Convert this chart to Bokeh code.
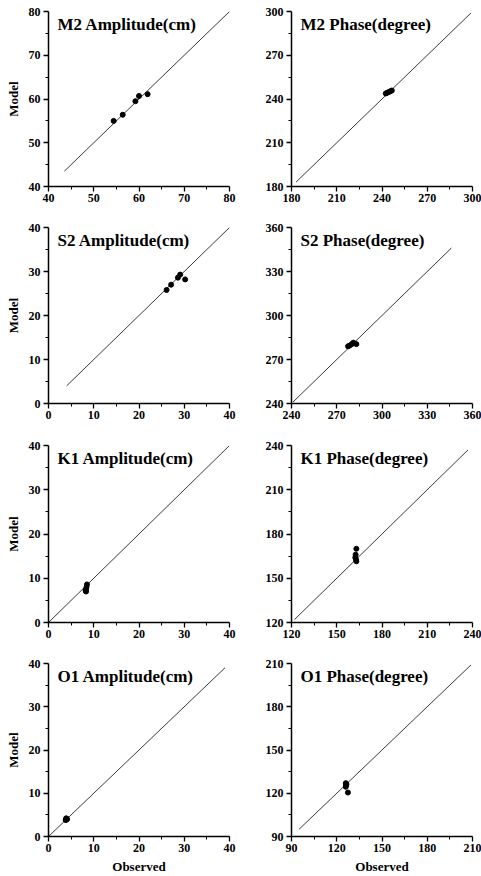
from bokeh.plotting import figure
from bokeh.layouts import gridplot
from bokeh.models import Range1d, FixedTicker, Label
from bokeh.embed import file_html
from bokeh.resources import INLINE

# ---------------- data ----------------
titles = ["M2 Amplitude(cm)", "M2 Phase(degree)",
          "S2 Amplitude(cm)", "S2 Phase(degree)",
          "K1 Amplitude(cm)", "K1 Phase(degree)",
          "O1 Amplitude(cm)", "O1 Phase(degree)"]

m2_amp_obs = [54.4, 56.4, 59.2, 60.0, 61.9]
m2_amp_mod = [55.0, 56.4, 59.5, 60.7, 61.1]
m2_pha_obs = [242.5, 243.5, 244.5, 245.5, 246.5]
m2_pha_mod = [243.8, 244.3, 244.8, 245.3, 245.8]
s2_amp_obs = [26.1, 27.1, 28.6, 29.1, 30.2]
s2_amp_mod = [25.8, 27.0, 28.6, 29.3, 28.2]
s2_pha_obs = [277.5, 278.5, 280.0, 281.0, 283.0]
s2_pha_mod = [279.0, 279.5, 280.5, 281.5, 280.5]
k1_amp_obs = [8.3, 8.3, 8.4, 8.5, 8.2]
k1_amp_mod = [7.0, 7.5, 8.0, 8.6, 7.2]
k1_pha_obs = [163.0, 162.5, 162.3, 162.8, 163.0]
k1_pha_mod = [170.0, 166.0, 164.0, 162.5, 161.5]
o1_amp_obs = [3.9, 4.0, 3.8, 4.1, 3.9]
o1_amp_mod = [3.9, 4.1, 3.8, 4.0, 4.2]
o1_pha_obs = [126.0, 126.2, 126.0, 126.4, 127.4]
o1_pha_mod = [127.0, 125.5, 124.5, 126.3, 120.5]

# axis ticks (first and last = axis range)
m2_amp_ticks = [40, 50, 60, 70, 80]
m2_pha_ticks = [180, 210, 240, 270, 300]
s2_amp_ticks = [0, 10, 20, 30, 40]
s2_pha_ticks = [240, 270, 300, 330, 360]
k1_amp_ticks = [0, 10, 20, 30, 40]
k1_pha_ticks = [120, 150, 180, 210, 240]
o1_amp_ticks = [0, 10, 20, 30, 40]
o1_pha_ticks = [90, 120, 150, 180, 210]

# extent of the 1:1 reference line in each panel
m2_amp_line = [43.5, 80]
m2_pha_line = [183, 299]
s2_amp_line = [4, 40]
s2_pha_line = [241, 346]
k1_amp_line = [0, 40]
k1_pha_line = [122, 237]
o1_amp_line = [0, 39]
o1_pha_line = [95, 209]

panels = [
    (m2_amp_obs, m2_amp_mod, m2_amp_ticks, m2_amp_line),
    (m2_pha_obs, m2_pha_mod, m2_pha_ticks, m2_pha_line),
    (s2_amp_obs, s2_amp_mod, s2_amp_ticks, s2_amp_line),
    (s2_pha_obs, s2_pha_mod, s2_pha_ticks, s2_pha_line),
    (k1_amp_obs, k1_amp_mod, k1_amp_ticks, k1_amp_line),
    (k1_pha_obs, k1_pha_mod, k1_pha_ticks, k1_pha_line),
    (o1_amp_obs, o1_amp_mod, o1_amp_ticks, o1_amp_line),
    (o1_pha_obs, o1_pha_mod, o1_pha_ticks, o1_pha_line),
]

# ---------------- layout ----------------
FONT = "Liberation Serif"
FRAME_W = 181
col_w = [241, 240]
col_left = [48, 50]
row_h = [219, 218, 218, 221]
row_top = [11, 8, 8, 8]
frame_h = [175, 176, 177, 174]

figs = []
for i, (obs, mod, ticks, line) in enumerate(panels):
    r, c = divmod(i, 2)
    lo, hi = ticks[0], ticks[-1]
    p = figure(width=col_w[c], height=row_h[r],
               x_range=Range1d(lo, hi), y_range=Range1d(lo, hi),
               output_backend="svg", toolbar_location=None,
               min_border_left=col_left[c],
               min_border_right=col_w[c] - col_left[c] - FRAME_W,
               min_border_top=row_top[r],
               min_border_bottom=row_h[r] - row_top[r] - frame_h[r])
    p.outline_line_color = None
    p.grid.visible = False
    p.background_fill_color = "white"
    p.border_fill_color = "white"

    minors = [(a + b) / 2 for a, b in zip(ticks[:-1], ticks[1:])]
    for ax in (p.xaxis[0], p.yaxis[0]):
        ax.ticker = FixedTicker(ticks=ticks, minor_ticks=minors)
        ax.axis_line_width = 1.5
        ax.axis_line_color = "black"
        ax.major_tick_line_color = "black"
        ax.major_tick_line_width = 1.3
        ax.minor_tick_line_color = "black"
        ax.major_tick_in = 0
        ax.minor_tick_in = 0
        ax.major_tick_out = 5
        ax.minor_tick_out = 3
        ax.major_label_text_font = FONT
        ax.major_label_text_font_style = "bold"
        ax.major_label_text_font_size = "12px"
        ax.major_label_text_color = "black"
        ax.axis_label_text_font = FONT
        ax.axis_label_text_font_style = "bold"
        ax.axis_label_text_font_size = "13px"
        ax.axis_label_text_color = "black"
    p.xaxis.major_label_standoff = 2
    p.yaxis.major_label_standoff = 3
    if c == 0:
        p.yaxis.axis_label = "Model"
        p.yaxis.axis_label_standoff = 5
    if r == 3:
        p.xaxis.axis_label = "Observed"
        p.xaxis.axis_label_standoff = 4

    p.line(line, line, line_color="#3a3a3a", line_width=1)
    p.scatter(obs, mod, size=5, color="black", marker="circle")

    span = hi - lo
    p.add_layout(Label(x=lo + span * 9 / FRAME_W, y=hi - span * 13 / frame_h[r],
                       text=titles[i], text_font=FONT, text_font_style="bold",
                       text_font_size="17px", text_baseline="middle",
                       text_color="black"))
    figs.append(p)

grid = gridplot([figs[0:2], figs[2:4], figs[4:6], figs[6:8]],
                toolbar_location=None)

open("out.html", "w").write(file_html(grid, INLINE))
